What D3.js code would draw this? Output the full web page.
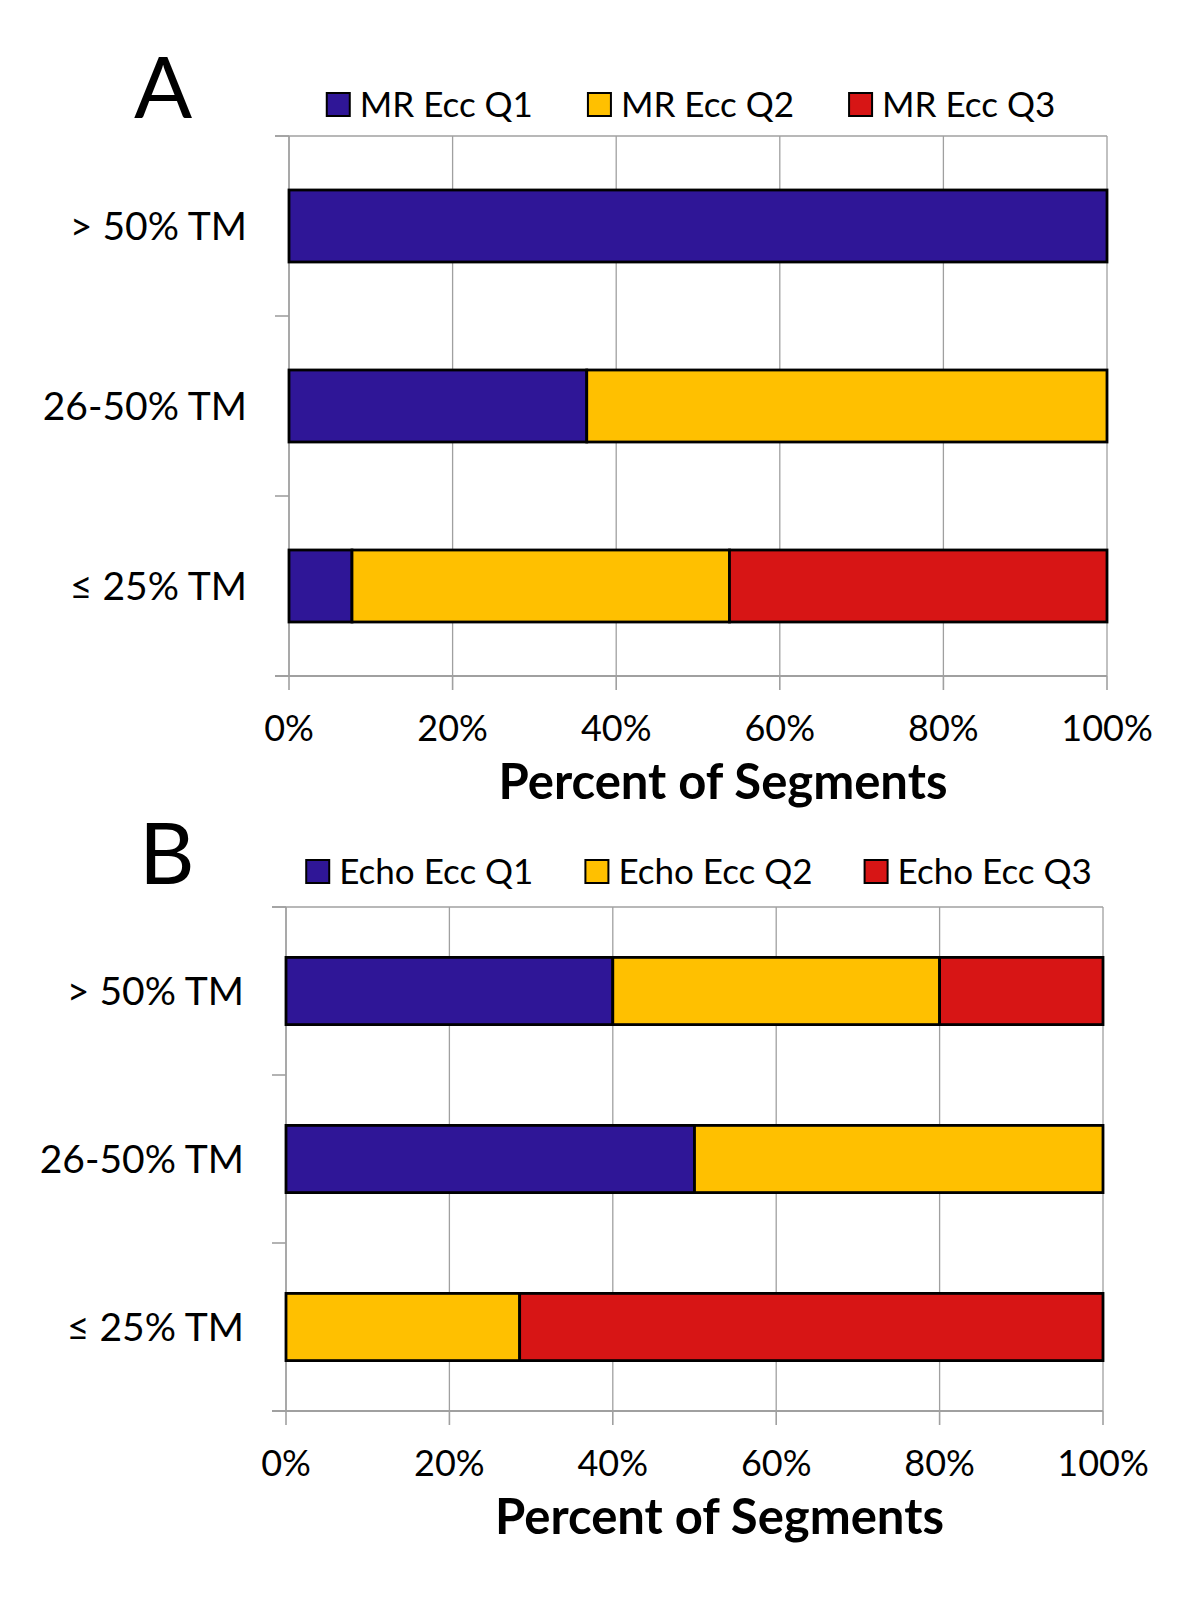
<!DOCTYPE html>
<html>
<head>
<meta charset="utf-8">
<script src="https://cdn.jsdelivr.net/npm/d3@7"></script>
<style>
  html, body { margin: 0; padding: 0; background: #fff; }
  svg { display: block; }
  text { font-family: Lato, "Open Sans", sans-serif; fill: #000; }
</style>
</head>
<body>
<svg id="chart" width="1200" height="1600"></svg>
<script>
// ---------- data ----------
const categories = ["> 50% TM", "26-50% TM", "\u2264 25% TM"];
const seriesKeys = ["Q1", "Q2", "Q3"];
const colors = ["#2f1697", "#ffc000", "#d71515"];
const legendA = ["MR Ecc Q1", "MR Ecc Q2", "MR Ecc Q3"];
const legendB = ["Echo Ecc Q1", "Echo Ecc Q2", "Echo Ecc Q3"];
// percent of segments per category (rows follow categories)
const mrQ1 = [100, 36.4, 7.7];
const mrQ2 = [0, 63.6, 46.15];
const mrQ3 = [0, 0, 46.15];
const echoQ1 = [40, 50, 0];
const echoQ2 = [40, 50, 28.6];
const echoQ3 = [20, 0, 71.4];
const xTicks = [0, 20, 40, 60, 80, 100];
const xTickLabels = ["0%", "20%", "40%", "60%", "80%", "100%"];
const axisTitle = "Percent of Segments";

const svg = d3.select("#chart");

function rows(q1, q2, q3) {
  return categories.map((c, i) => ({ cat: c, Q1: q1[i], Q2: q2[i], Q3: q3[i] }));
}

function drawPanel(cfg) {
  const g = svg.append("g");
  const x = d3.scaleLinear().domain([0, 100]).range([cfg.left, cfg.right]);
  const y = d3.scaleBand().domain(categories).range([cfg.top, cfg.bottom])
    .paddingInner(0.6).paddingOuter(0.3);
  const bounds = [cfg.top, ...categories.slice(1).map(c => y(c) - y.step() * y.paddingInner() / 2), cfg.bottom];
  const grey = "#a0a0a0";

  // gridlines
  g.selectAll("line.grid").data(xTicks.slice(1)).enter().append("line")
    .attr("x1", d => x(d)).attr("x2", d => x(d))
    .attr("y1", cfg.top).attr("y2", cfg.bottom)
    .attr("stroke", grey).attr("stroke-width", 1.3);
  // top border
  g.append("line").attr("x1", cfg.left - 14).attr("x2", cfg.right)
    .attr("y1", cfg.top).attr("y2", cfg.top).attr("stroke", grey).attr("stroke-width", 1.6);
  // left axis
  g.append("line").attr("x1", cfg.left).attr("x2", cfg.left)
    .attr("y1", cfg.top).attr("y2", cfg.bottom).attr("stroke", grey).attr("stroke-width", 1.8);
  // y ticks at band boundaries
  g.selectAll("line.yt").data(bounds).enter().append("line")
    .attr("x1", cfg.left - 14).attr("x2", cfg.left)
    .attr("y1", d => d).attr("y2", d => d)
    .attr("stroke", grey).attr("stroke-width", 1.6);
  // x axis
  g.append("line").attr("x1", cfg.left - 14).attr("x2", cfg.right)
    .attr("y1", cfg.bottom).attr("y2", cfg.bottom).attr("stroke", grey).attr("stroke-width", 2);
  g.selectAll("line.xt").data(xTicks).enter().append("line")
    .attr("x1", d => x(d)).attr("x2", d => x(d))
    .attr("y1", cfg.bottom).attr("y2", cfg.bottom + 14)
    .attr("stroke", grey).attr("stroke-width", 1.6);
  g.selectAll("text.xl").data(xTicks).enter().append("text")
    .attr("x", d => x(d)).attr("y", cfg.bottom + 65)
    .attr("text-anchor", "middle").attr("font-size", 36)
    .text((d, i) => xTickLabels[i]);

  // bars
  const stack = d3.stack().keys(seriesKeys)(cfg.data);
  stack.forEach((layer, li) => {
    g.selectAll(null).data(layer.filter(d => d[1] - d[0] > 0)).enter().append("rect")
      .attr("x", d => x(d[0])).attr("width", d => x(d[1]) - x(d[0]))
      .attr("y", d => y(d.data.cat)).attr("height", y.bandwidth())
      .attr("fill", colors[li]).attr("stroke", "#000").attr("stroke-width", 2.8);
  });

  // category labels
  g.selectAll("text.yl").data(categories).enter().append("text")
    .attr("x", cfg.left - 42).attr("y", d => y(d) + y.bandwidth() / 2 + 14)
    .attr("text-anchor", "end").attr("font-size", 39).text(d => d);

  // axis title
  g.append("text").attr("x", (cfg.left + cfg.right) / 2 + 25).attr("y", cfg.bottom + 123)
    .attr("text-anchor", "middle").attr("font-size", 49).attr("font-weight", "bold")
    .text(axisTitle);

  // panel letter
  g.append("text").attr("x", cfg.letterX).attr("y", cfg.letterY)
    .attr("font-size", 86).text(cfg.letter);

  // legend
  const lg = g.append("g");
  const items = cfg.legend.map((t, i) => {
    const it = lg.append("g");
    it.append("rect").attr("x", 0).attr("y", -12).attr("width", 23).attr("height", 23)
      .attr("fill", colors[i]).attr("stroke", "#000").attr("stroke-width", 2);
    const tx = it.append("text").attr("x", 33).attr("y", 12).attr("font-size", 35).text(t);
    return { it, w: 33 + tx.node().getComputedTextLength() };
  });
  const gap = cfg.legendGap;
  const total = d3.sum(items, d => d.w) + gap * (items.length - 1);
  let cx = cfg.legendCenter - total / 2;
  items.forEach(d => { d.it.attr("transform", `translate(${cx},${cfg.legendY})`); cx += d.w + gap; });
}

drawPanel({
  left: 289, right: 1107, top: 136, bottom: 676,
  data: rows(mrQ1, mrQ2, mrQ3), legend: legendA,
  letter: "A", letterX: 134, letterY: 118,
  legendY: 105, legendCenter: 691, legendGap: 55
});
drawPanel({
  left: 286, right: 1103, top: 907, bottom: 1411,
  data: rows(echoQ1, echoQ2, echoQ3), legend: legendB,
  letter: "B", letterX: 139, letterY: 884,
  legendY: 872, legendCenter: 699, legendGap: 52
});
</script>
</body>
</html>
